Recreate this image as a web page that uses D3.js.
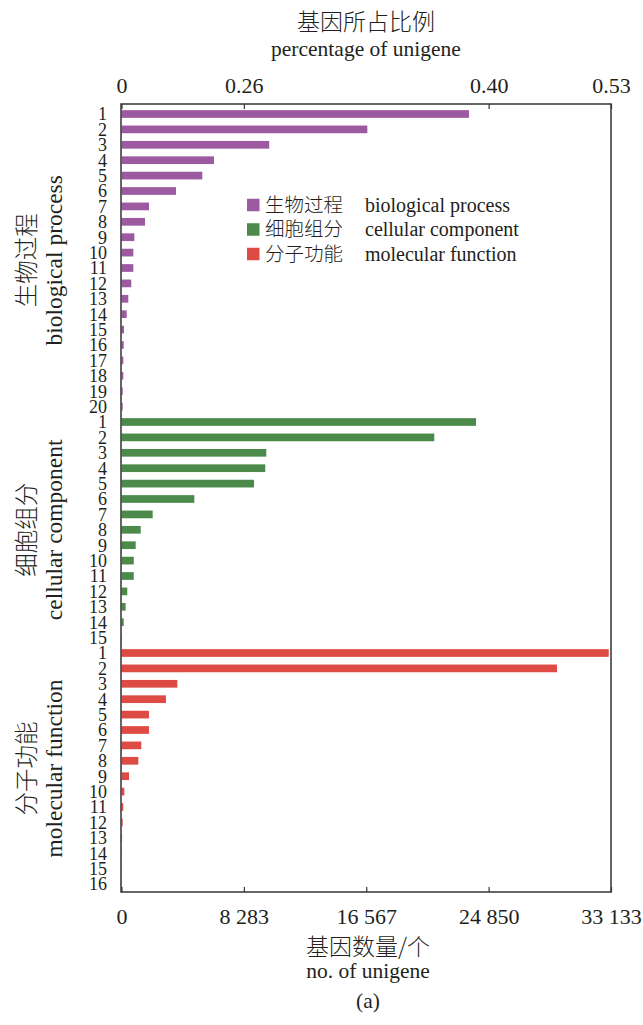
<!DOCTYPE html>
<html>
<head>
<meta charset="utf-8">
<script src="https://cdn.jsdelivr.net/npm/d3@7"></script>
<style>
  body { margin: 0; background: #fff; }
  svg { display: block; }
</style>
</head>
<body>
<svg id="chart" width="643" height="1025"></svg>
<script>
// GO annotation counts per term, numbered within each ontology
const bpCounts = [23520, 16640, 10000, 6260, 5470, 3690, 1860, 1590, 870, 800, 800, 660, 460, 350, 170, 150, 120, 120, 80, 80];
const ccCounts = [24000, 21170, 9800, 9730, 8970, 4930, 2110, 1300, 960, 830, 830, 390, 280, 150, 30];
const mfCounts = [32980, 29480, 3780, 3010, 1860, 1860, 1340, 1140, 510, 190, 120, 80, 40, 30, 20, 20];

const groupZh = ["生物过程", "细胞组分", "分子功能"];
const groupEn = ["biological process", "cellular component", "molecular function"];

const countTicks = [0, 8283, 16567, 24850, 33133];
const pctTickPositions = [0, 8283, 24850, 33133];
const pctTickLabels = ["0", "0.26", "0.40", "0.53"];

const colors = ["#9c5aa0", "#4b8a4a", "#de4b45"];
const serif = "'Liberation Serif', 'Times New Roman', serif";
const cjk = "'Noto Sans CJK SC', sans-serif";
const ink = "#231f20";

const svg = d3.select("#chart");
const frame = { left: 121, right: 611, top: 104, bottom: 892 };

// one row per term, groups stacked top to bottom
const series = [bpCounts, ccCounts, mfCounts];
const rows = [];
series.forEach((vals, g) => vals.forEach((v, i) => rows.push({ key: g + "-" + (i + 1), g, n: i + 1, v })));

const x = d3.scaleLinear().domain([0, 33133]).range([frame.left + 0.5, frame.right]);
const y = d3.scaleBand()
  .domain(rows.map(r => r.key))
  .range([106.3, 891.7])
  .paddingInner(0.5)
  .paddingOuter(0.25);
const bw = y.bandwidth();

// bars
svg.append("g").selectAll("rect").data(rows).join("rect")
  .attr("x", x(0))
  .attr("y", d => y(d.key))
  .attr("width", d => Math.max(0, x(d.v) - x(0)))
  .attr("height", bw)
  .attr("fill", d => colors[d.g]);

// row numbers
svg.append("g").selectAll("text").data(rows).join("text")
  .attr("x", 107)
  .attr("y", d => y(d.key) + bw / 2)
  .attr("dy", "0.35em")
  .attr("text-anchor", "end")
  .attr("font-family", serif)
  .attr("font-size", 18)
  .attr("fill", ink)
  .text(d => d.n);

// bottom axis: gene counts
const fmt = d3.formatLocale({ decimal: ".", thousands: " ", grouping: [3], currency: ["", ""] }).format(",");
const axisB = svg.append("g")
  .attr("transform", `translate(0,${frame.bottom})`)
  .call(d3.axisBottom(x).tickValues(countTicks).tickSize(-5).tickFormat(fmt));
axisB.select(".domain").remove();
axisB.selectAll(".tick line").attr("stroke", "#333").attr("stroke-width", 1.2);
axisB.selectAll(".tick text")
  .attr("y", 32).attr("dy", null)
  .attr("font-family", serif).attr("font-size", 22).attr("fill", ink);

// top axis: percentage labels
const axisT = svg.append("g")
  .attr("transform", `translate(0,${frame.top})`)
  .call(d3.axisTop(x).tickValues(pctTickPositions).tickSize(-5)
    .tickFormat(d => pctTickLabels[pctTickPositions.indexOf(d)]));
axisT.select(".domain").remove();
axisT.selectAll(".tick line").attr("stroke", "#333").attr("stroke-width", 1.2);
axisT.selectAll(".tick text")
  .attr("y", -11).attr("dy", null)
  .attr("font-family", serif).attr("font-size", 22).attr("fill", ink);

// plot frame
svg.append("rect")
  .attr("x", frame.left).attr("y", frame.top)
  .attr("width", frame.right - frame.left).attr("height", frame.bottom - frame.top)
  .attr("fill", "none").attr("stroke", "#333").attr("stroke-width", 1.5);

// axis titles
const midX = (frame.left + frame.right) / 2;
svg.append("text").attr("x", midX).attr("y", 22).attr("dy", "0.35em")
  .attr("text-anchor", "middle").attr("font-family", cjk).attr("font-weight", 300)
  .attr("font-size", 23).attr("fill", ink).text("基因所占比例");
svg.append("text").attr("x", midX).attr("y", 56)
  .attr("text-anchor", "middle").attr("font-family", serif)
  .attr("font-size", 21.5).attr("fill", ink).text("percentage of unigene");
svg.append("text").attr("x", midX + 2).attr("y", 947).attr("dy", "0.35em")
  .attr("text-anchor", "middle").attr("font-family", cjk).attr("font-weight", 300)
  .attr("font-size", 23).attr("fill", ink).text("基因数量/个");
svg.append("text").attr("x", midX + 2).attr("y", 978)
  .attr("text-anchor", "middle").attr("font-family", serif)
  .attr("font-size", 21.5).attr("fill", ink).text("no. of unigene");
svg.append("text").attr("x", midX + 2).attr("y", 1008)
  .attr("text-anchor", "middle").attr("font-family", serif)
  .attr("font-size", 21.5).attr("fill", ink).text("(a)");

// group labels along the left side
series.forEach((vals, g) => {
  const first = y(g + "-1") + bw / 2;
  const last = y(g + "-" + vals.length) + bw / 2;
  const yc = (first + last) / 2;
  svg.append("text")
    .attr("transform", `translate(27,${yc}) rotate(-90)`)
    .attr("dy", "0.35em")
    .attr("text-anchor", "middle").attr("font-family", cjk).attr("font-weight", 300)
    .attr("font-size", 23.5).attr("fill", ink).text(groupZh[g]);
  svg.append("text")
    .attr("transform", `translate(62,${yc}) rotate(-90)`)
    .attr("text-anchor", "middle").attr("font-family", serif)
    .attr("font-size", 23.5).attr("fill", ink).text(groupEn[g]);
});

// legend
const legend = svg.append("g");
groupZh.forEach((name, i) => {
  const ly = 205 + i * 24.5;
  legend.append("rect").attr("x", 247).attr("y", ly - 6.25)
    .attr("width", 12.5).attr("height", 12.5).attr("fill", colors[i]);
  legend.append("text").attr("x", 265).attr("y", ly).attr("dy", "0.35em")
    .attr("font-family", cjk).attr("font-weight", 300).attr("font-size", 19.5)
    .attr("fill", ink).text(name);
  legend.append("text").attr("x", 365).attr("y", ly).attr("dy", "0.33em")
    .attr("font-family", serif).attr("font-size", 20)
    .attr("fill", ink).text(groupEn[i]);
});
</script>
</body>
</html>
